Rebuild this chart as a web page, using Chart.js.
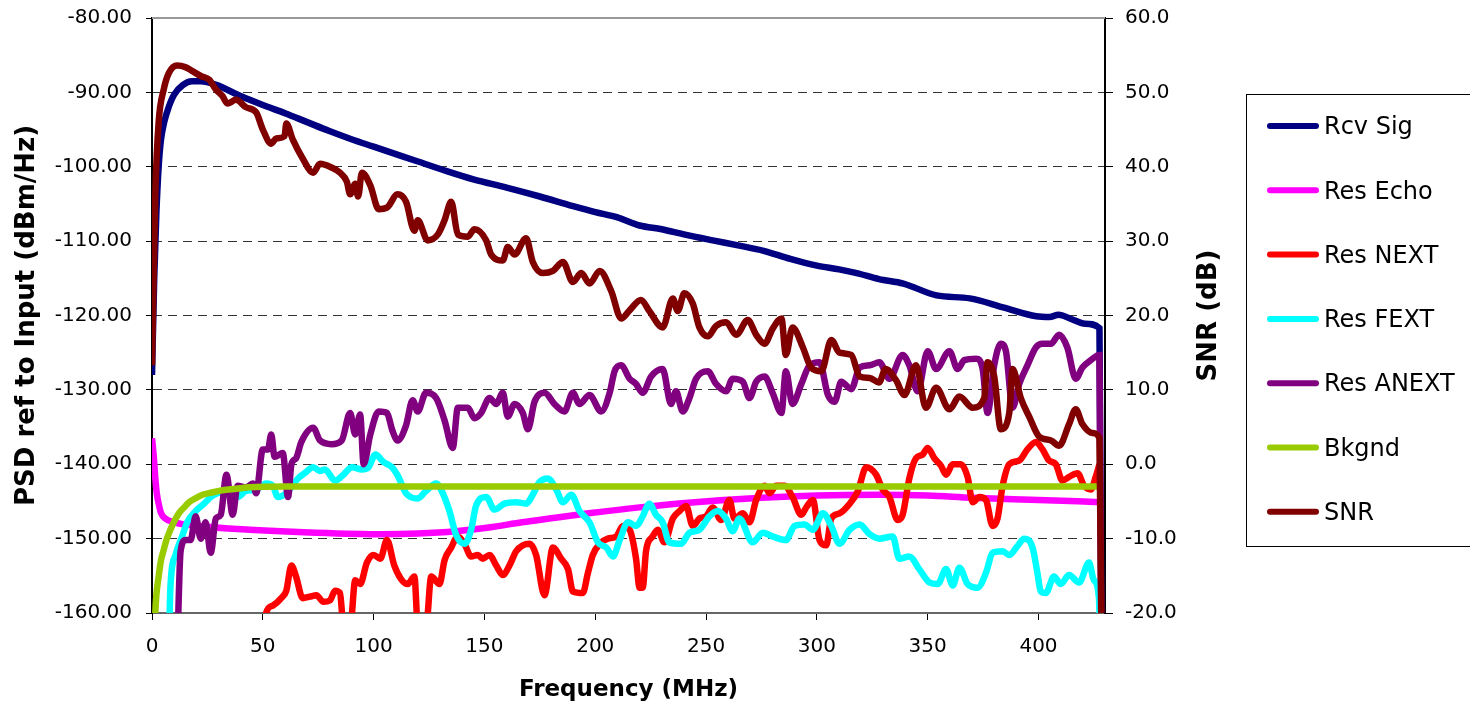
<!DOCTYPE html>
<html>
<head>
<meta charset="utf-8">
<script src="https://cdn.jsdelivr.net/npm/chart.js@4.4.1/dist/chart.umd.min.js"></script>
<style>
  body { margin: 0; background: #fff; }
  canvas { display: block; }
</style>
</head>
<body>
<canvas id="psdChart" width="1470" height="704"></canvas>
<script>
// series names, in legend order
const seriesNames = ['Rcv Sig', 'Res Echo', 'Res NEXT', 'Res FEXT', 'Res ANEXT', 'Bkgnd', 'SNR'];
const seriesColors = ['#000080', '#ff00ff', '#ff0000', '#00ffff', '#800080', '#99cc00', '#800000'];

// tick labels
const leftTicks = [-160, -150, -140, -130, -120, -110, -100, -90, -80];
const rightTicks = [-20, -10, 0, 10, 20, 30, 40, 50, 60];
const freqTicks = [0, 50, 100, 150, 200, 250, 300, 350, 400];

// Rcv Sig (dBm/Hz)
const rcvFreq = [0, 1, 2, 3, 4, 5.5, 7.5, 10, 14, 18, 22, 29, 40, 50, 60, 70, 80, 90, 100, 112, 120, 133, 145, 160, 175, 190, 200, 210, 220, 230, 240, 253, 265, 276, 288, 300, 310, 318, 328, 339, 354, 369, 384, 399, 405, 409, 415, 421, 427.5, 429];
const rcvSig = [-128, -115, -106, -100, -96.5, -94, -92, -90.3, -89, -88.5, -88.5, -89, -90.5, -91.7, -92.8, -94, -95.2, -96.3, -97.3, -98.5, -99.3, -100.6, -101.7, -102.8, -104, -105.3, -106.1, -106.8, -107.9, -108.4, -109.1, -109.9, -110.6, -111.3, -112.4, -113.3, -113.8, -114.3, -115.1, -115.7, -117.3, -117.7, -118.9, -120.1, -120.2, -119.9, -120.5, -121.1, -121.7, -200];

// Res Echo (dBm/Hz)
const echoFreq = [0, 0.8, 1.5, 2.2, 3, 4, 6, 10, 21, 44, 74, 104, 120, 137, 152, 167, 182, 197, 220, 245, 275, 300, 328, 350, 370, 400, 428];
const resEcho = [-136.5, -139, -141.9, -144, -145.3, -146.5, -147.3, -147.8, -148.3, -148.8, -149.2, -149.4, -149.3, -149, -148.5, -147.8, -147.2, -146.6, -145.8, -145.1, -144.5, -144.2, -144.1, -144.2, -144.5, -144.8, -145.1];

// Res NEXT (dBm/Hz)
const nextFreq = [50, 51.5, 54.5, 58.3, 60.6, 62.9, 65, 68, 71.2, 74.2, 77.3, 80.3, 82.6, 84.8, 86.5, 89.4, 91.7, 93.9, 97, 100, 103, 106, 109.3, 112.3, 115.4, 118.4, 120, 123.6, 126, 129.7, 132, 135, 138, 141, 144, 147, 149.2, 152.3, 155.3, 158.3, 161.3, 164.3, 167.3, 170.3, 173.3, 177.1, 180.9, 184.6, 187.7, 189.9, 194.4, 196.7, 198.9, 202, 205.7, 209.5, 212.5, 215.5, 218.4, 220, 221.4, 222.9, 225.9, 228.2, 231.2, 235, 238, 241, 244, 247, 250, 253, 256.8, 260.5, 262.8, 266.6, 269.6, 272.6, 276.4, 278.6, 281.6, 285.4, 289, 293, 295.2, 298.2, 301.2, 304.2, 306.5, 310.2, 314.8, 318.5, 322.3, 326.7, 329.7, 332.7, 336.5, 338.7, 341.7, 344.7, 347.7, 350, 353, 356, 358.3, 361.3, 365, 368, 370.3, 373.3, 376.3, 379.3, 381.5, 383.8, 386.8, 391.3, 395, 398.8, 401.8, 404.8, 407.8, 410.8, 413.8, 417.6, 420.6, 423.6, 425.8, 427.5];
const resNext = [-165, -160, -159, -158, -157, -153.6, -155.1, -158, -157.8, -157.6, -158.5, -158.3, -157, -157.3, -162, -162, -155.6, -156.1, -153.2, -152.2, -152.7, -150.2, -153.6, -155.4, -156.1, -155.1, -162, -162, -155.1, -156.1, -152.9, -151.2, -149.7, -150.7, -152.4, -152.2, -152.7, -152.2, -153.6, -154.9, -153.6, -151.7, -150.9, -150.7, -152.2, -157.6, -151.2, -152.7, -154.1, -157.1, -157.3, -154.6, -152.2, -150.7, -150, -149.7, -148.3, -148.8, -152.7, -156.6, -156.6, -151.7, -149.7, -148.8, -150.5, -147.3, -146.3, -145.6, -148.3, -147.3, -147, -145.8, -147.5, -144.8, -147.3, -146.6, -147.8, -144.8, -142.9, -143.9, -142.9, -142.9, -144.4, -146.8, -145.8, -144.8, -150.2, -150.9, -147.3, -146.6, -145.3, -143.6, -140.4, -141.4, -143.4, -144.4, -147.5, -146.8, -141.9, -139.2, -138.7, -137.8, -139.2, -140.2, -141.4, -140, -140, -141.7, -145.1, -144.4, -144.8, -148.3, -147.3, -142.9, -140, -139.5, -138, -137, -138, -139.5, -140, -142.2, -141.7, -141.2, -142.9, -143.4, -141.7, -140];

// Res FEXT (dBm/Hz)
const fextFreq = [7.6, 8.3, 10.6, 13.6, 15.9, 19.7, 23.5, 26.5, 29.5, 34.8, 38.6, 42.4, 47, 51.5, 54.5, 56.8, 60.6, 62.9, 65.9, 68.9, 72.7, 75.8, 78, 82.6, 86.4, 90.2, 94.7, 97.7, 100.8, 104.5, 108.3, 111, 114.6, 119.9, 123.6, 128.2, 131.2, 134.2, 137.2, 141, 144, 146.2, 150.8, 154.5, 159, 164.3, 168.8, 171.8, 174.8, 178.6, 182.4, 185.4, 189.2, 192.9, 197.4, 201.2, 205, 208, 211, 214.8, 218.4, 221.4, 224.4, 227.4, 230.4, 233.4, 238.7, 242.5, 247, 251.5, 255.3, 259, 262, 265, 271, 275.6, 280, 286, 289.9, 294.4, 298.2, 302.7, 306.5, 310.2, 314.8, 319.3, 323.8, 328.2, 334.2, 337.2, 341.7, 346.2, 350.8, 354.5, 358.3, 361.3, 364.3, 368, 372.5, 376.3, 379.3, 383.8, 386.8, 390.5, 393.5, 397.3, 399.5, 401, 403.3, 407, 410, 413.8, 418.3, 422.8, 425, 427.3, 429];
const resFext = [-165, -156.6, -152.2, -149.7, -147.8, -146.3, -145.3, -144.4, -143.9, -143.6, -144.4, -143.6, -143.4, -142.6, -142.9, -144.4, -143.9, -143.1, -141.9, -141.2, -140.4, -140.9, -140.7, -142.2, -141.4, -140.4, -140.7, -140.4, -138.7, -139.7, -140.4, -141.6, -143.9, -144.6, -143.6, -142.6, -143.9, -146.3, -149.5, -150.7, -148.8, -145.6, -144.4, -146.1, -145.3, -145.1, -145.3, -144.1, -142.4, -141.9, -143.4, -145.1, -144.1, -146.3, -147.8, -150.5, -151.2, -152.4, -150.2, -147.8, -148.3, -147, -145.3, -146.8, -147.8, -150.5, -150.7, -149.2, -148.8, -147, -146.3, -147.3, -149, -147.3, -150.5, -149.2, -149.7, -150.2, -148.3, -148.1, -148.8, -146.6, -148.3, -150.7, -148.8, -148.1, -149.4, -150, -149.7, -152.7, -152.4, -154.1, -155.9, -156.1, -154.1, -156.3, -153.9, -156.1, -156.6, -154.6, -151.9, -151.7, -152.2, -151, -150, -151.2, -154.6, -157.1, -157.3, -155.1, -156.1, -154.9, -155.9, -153.2, -155.6, -158.1, -200];

// Res ANEXT (dBm/Hz)
const anextFreq = [11.4, 12.9, 15.2, 17.4, 19.7, 22, 24.2, 26.5, 28.8, 31, 33.6, 36.4, 38.6, 42.4, 45.5, 47, 50, 52.3, 53.8, 55.3, 59, 61.4, 62.9, 65, 67.4, 72.7, 75.8, 81, 85.6, 89.4, 91.7, 93.9, 95.5, 98.5, 102.3, 106, 108.5, 110.8, 114.6, 117.6, 119.9, 123.6, 128.2, 132, 135.7, 138, 142.5, 145.5, 148.5, 152.3, 155.3, 158.3, 160.5, 163.6, 167.3, 169.6, 172.6, 177.1, 181.6, 186.1, 189.9, 192.9, 197.4, 202.7, 206.5, 208.7, 211.7, 215.5, 218.4, 221.4, 225.2, 230.4, 234.2, 236.4, 239.5, 242.5, 245.5, 250.8, 254.5, 259, 262, 266.6, 269.6, 272.6, 276.4, 280, 284, 286, 289, 293, 296.7, 301.2, 305, 308, 311, 315.5, 319.3, 323.8, 328.2, 332.7, 338.7, 341.7, 345.5, 350, 353.8, 359.8, 363.5, 366.5, 371.8, 374.8, 377, 380, 383, 385.3, 388.3, 391.3, 395, 398.8, 401.8, 405.6, 409.3, 413, 416.8, 419.8, 423.6, 427.5, 429];
const resAnext = [-165, -151.7, -150.2, -150.2, -147, -150, -147.8, -151.9, -147.3, -146.8, -141.4, -146.8, -142.9, -143.1, -142.6, -143.9, -138, -138, -136, -139, -138.5, -144.4, -140, -139.2, -137, -135.1, -136.8, -137.3, -136.8, -133.1, -136, -133.3, -140, -136, -132.9, -133.1, -135.5, -136.8, -134.8, -131.4, -132.9, -130.4, -131.1, -134.1, -137.8, -132.4, -132.4, -133.8, -133.1, -131.1, -131.9, -130.4, -133.6, -131.9, -133.1, -135.3, -131.6, -130.4, -131.9, -132.9, -130.4, -131.9, -130.7, -132.9, -130.4, -127.5, -126.7, -128.5, -129.2, -130.4, -128.2, -127.2, -131.9, -130.2, -132.9, -131.1, -128.5, -127.5, -129.2, -130.2, -128.5, -128.9, -131.1, -128.9, -128.2, -130.4, -133.1, -127.5, -131.9, -129.2, -126.7, -126.3, -130.7, -131.6, -128.9, -129.9, -127, -126.7, -126.3, -128.5, -125.3, -126.7, -130.2, -124.8, -127.2, -124.8, -127.2, -126, -125.8, -127.2, -133.1, -126.7, -123.8, -124.8, -132.4, -129.2, -126.7, -124.3, -123.8, -123.8, -122.6, -124.3, -128.5, -127, -126, -125.3, -200];

// Bkgnd (dBm/Hz)
const bkgFreq = [1, 1.5, 2, 3, 4, 5.3, 6.5, 8.3, 10, 12.1, 14.5, 16.7, 19.5, 22.7, 27, 31.8, 38, 44, 60, 428];
const bkgnd = [-166, -160, -157.5, -155.1, -153, -151.5, -150.2, -148.8, -147.7, -146.6, -145.8, -145.1, -144.6, -144.1, -143.8, -143.5, -143.3, -143.1, -143, -143];

// SNR (dB, right axis)
const snrFreq = [0, 1.5, 3, 5.3, 7.6, 11.4, 15, 18, 22, 25.8, 28.8, 31.8, 34, 37.9, 42.4, 47, 50, 53.8, 56, 59.8, 60.6, 63.6, 68, 72.7, 75.8, 81, 84.8, 87.9, 89.4, 91.7, 93, 94.7, 98.5, 102.3, 106, 110.8, 114.6, 118.4, 119.9, 124.4, 129, 132, 135, 138, 142.5, 145.5, 150.8, 153, 158.3, 160.5, 163.6, 168.8, 171.8, 176.4, 180.9, 185.4, 189.9, 193.7, 197.4, 202, 207.2, 211.7, 215.5, 220.6, 224.4, 230.4, 235, 237.2, 240.2, 244, 247, 250.8, 254.5, 259, 263.6, 268.8, 272.6, 276.4, 280, 284, 286, 289, 293.7, 297.4, 302, 306.5, 310.2, 315.5, 319.3, 323.8, 328, 331, 335.7, 339.5, 344.7, 349.2, 353.8, 359.8, 364.3, 370.3, 375.5, 377, 380, 383, 386.8, 388.3, 392, 395.8, 400.3, 405.6, 409.3, 413.8, 416.8, 419.8, 424.3, 427.5, 429.5];
const snr = [13.3, 36.3, 46, 50.4, 52.6, 53.6, 53.4, 52.9, 52.2, 51.7, 50.4, 49.5, 48.5, 49, 48, 47.3, 45, 43.1, 43.8, 44.1, 45.8, 43.6, 41.1, 39.2, 40.4, 39.9, 39.2, 38, 36.3, 37.7, 36, 39.2, 37.5, 34.3, 34.5, 36.3, 35.3, 31.4, 32.8, 30.1, 30.9, 32.8, 35.3, 30.9, 30.6, 31.6, 30.1, 28.2, 27.4, 29.2, 28.2, 30.4, 27.2, 25.7, 26, 27.2, 24.5, 25.7, 24.3, 26, 23.3, 19.6, 20.7, 22.1, 20.6, 18.4, 22.3, 20.6, 23, 21.6, 18.4, 17.2, 18.6, 19.1, 17.4, 19.4, 17.4, 16.2, 18.2, 19.6, 14.7, 18.4, 15.7, 13, 12.5, 16.7, 15, 14.7, 11.8, 11.6, 11, 12.8, 11.3, 9.3, 13.3, 7.6, 10.3, 7.4, 9.1, 7.6, 8.9, 13.7, 11.8, 4.7, 6.9, 12.8, 8.9, 6.4, 3.7, 3.2, 2.5, 5.4, 7.4, 5.4, 4.2, 3.5, -60];

const pts = (xs, ys) => xs.map((x, i) => ({x: x, y: ys[i]}));
const seriesData = [
  pts(rcvFreq, rcvSig),
  pts(echoFreq, resEcho),
  pts(nextFreq, resNext),
  pts(fextFreq, resFext),
  pts(anextFreq, resAnext),
  pts(bkgFreq, bkgnd),
  pts(snrFreq, snr)
];

const FONT = '"DejaVu Sans", Verdana, sans-serif';

const datasets = seriesNames.map((name, i) => ({
  label: name,
  data: seriesData[i],
  yAxisID: name === 'SNR' ? 'yR' : 'yL',
  borderColor: seriesColors[i],
  backgroundColor: seriesColors[i],
  borderWidth: 6.5,
  pointRadius: 0,
  fill: false,
  cubicInterpolationMode: 'monotone',
  order: seriesNames.length - i   // later series drawn on top, as in the original
}));

// y axes: fixed width, no extra room for the end labels
const fitY = (w) => (s) => { s.width = w; s.paddingTop = 0; s.paddingBottom = 0; };

// top frame line, right axis title and boxed legend
const extras = {
  id: 'extras',
  afterDraw(chart) {
    const ctx = chart.ctx;
    const a = chart.chartArea;
    ctx.save();
    ctx.strokeStyle = '#999';
    ctx.lineWidth = 2;
    ctx.beginPath();
    ctx.moveTo(a.left, a.top);
    ctx.lineTo(a.right, a.top);
    ctx.stroke();

    ctx.save();
    ctx.translate(1209, (a.top + a.bottom) / 2);
    ctx.rotate(-Math.PI / 2);
    ctx.fillStyle = '#000';
    ctx.font = 'bold 26px ' + FONT;
    ctx.textAlign = 'center';
    ctx.textBaseline = 'middle';
    ctx.fillText('SNR (dB)', 0, 0);
    ctx.restore();

    // legend
    ctx.strokeStyle = '#000';
    ctx.lineWidth = 1;
    ctx.strokeRect(1246.5, 94.5, 260, 452);
    ctx.font = '24px ' + FONT;
    ctx.textAlign = 'left';
    ctx.textBaseline = 'middle';
    ctx.lineCap = 'round';
    seriesNames.forEach((name, i) => {
      const y = 126 + i * 64.3;
      ctx.strokeStyle = seriesColors[i];
      ctx.lineWidth = 6;
      ctx.beginPath();
      ctx.moveTo(1270, y);
      ctx.lineTo(1316, y);
      ctx.stroke();
      ctx.fillStyle = '#000';
      ctx.fillText(name, 1324, y + 2);
    });
    ctx.restore();
  }
};

const ctx = document.getElementById('psdChart');
const psdChart = new Chart(ctx, {
  type: 'line',
  data: { datasets: datasets },
  options: {
    responsive: false,
    animation: false,
    devicePixelRatio: 1,
    layout: { padding: { top: 18, right: 240, left: 0, bottom: 0 } },
    plugins: { legend: { display: false }, tooltip: { enabled: false } },
    scales: {
      x: {
        type: 'linear',
        min: 0,
        max: 430,
        afterFit: (s) => { s.height = 91; },
        afterBuildTicks: (s) => { s.ticks = freqTicks.map(v => ({value: v})); },
        ticks: { color: '#000', font: { family: FONT, size: 20 }, padding: 15, maxRotation: 0 },
        grid: { drawOnChartArea: false, tickLength: 7, tickColor: '#000', color: '#000' },
        border: { color: '#666', width: 2 },
        title: { display: true, text: 'Frequency (MHz)', color: '#000', font: { family: FONT, size: 23, weight: 'bold' }, padding: { top: 0, bottom: 0 } }
      },
      yL: {
        type: 'linear',
        position: 'left',
        min: -160,
        max: -80,
        afterFit: fitY(152),
        afterBuildTicks: (s) => { s.ticks = leftTicks.map(v => ({value: v})); },
        ticks: { color: '#000', font: { family: FONT, size: 20 }, padding: 14, callback: (v) => v.toFixed(2) },
        grid: {
          color: (c) => (c.tick && (c.tick.value === -160 || c.tick.value === -80)) ? 'rgba(0,0,0,0)' : '#333',
          tickColor: '#000',
          tickLength: 6,
          tickBorderDash: []
        },
        border: { color: '#000', width: 2, dash: [9, 6] },
        title: { display: true, text: 'PSD ref to Input (dBm/Hz)', color: '#000', font: { family: FONT, size: 26, weight: 'bold' }, padding: { top: 12, bottom: 0 } }
      },
      yR: {
        type: 'linear',
        position: 'right',
        min: -20,
        max: 60,
        afterFit: fitY(125),
        afterBuildTicks: (s) => { s.ticks = rightTicks.map(v => ({value: v})); },
        ticks: { color: '#000', font: { family: FONT, size: 20 }, padding: 12, callback: (v) => v.toFixed(1) },
        grid: { drawOnChartArea: false, tickColor: '#000', tickLength: 8 },
        border: { color: '#000', width: 2 }
      }
    }
  },
  plugins: [extras]
});
</script>
</body>
</html>
